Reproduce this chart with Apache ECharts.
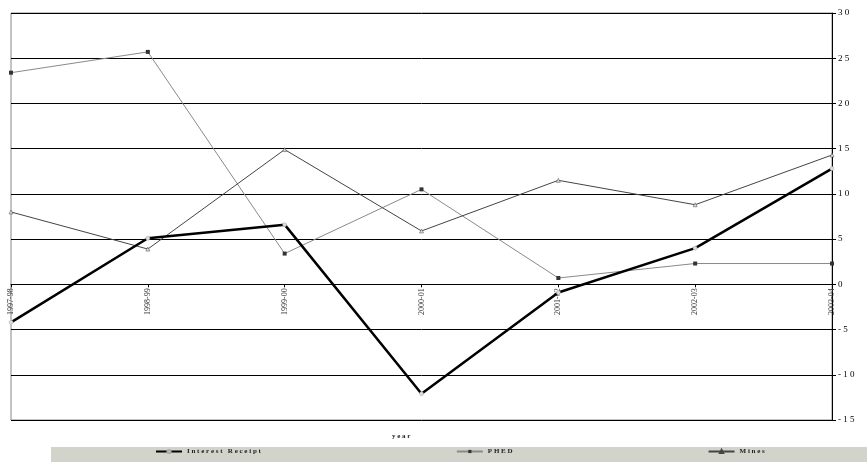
<!DOCTYPE html>
<html>
<head>
<meta charset="utf-8">
<script src="https://cdn.jsdelivr.net/npm/echarts@6/dist/echarts.min.js"></script>
<style>html,body{margin:0;padding:0;background:#fff;}#c{width:867px;height:462px;}</style>
</head>
<body>
<div id="c"></div>
<script>
const categories = ['1997-98','1998-99','1999-00','2000-01','2001-02','2002-03','2003-04'];
const interestReceipt = [-4.2, 5.1, 6.6, -12.1, -0.9, 4.0, 12.8];
const phed = [23.4, 25.7, 3.4, 10.5, 0.7, 2.3, 2.3];
const mines = [8.0, 3.9, 14.9, 5.9, 11.5, 8.8, 14.3];
const seriesNames = ['Interest Receipt', 'PHED', 'Mines'];
const xAxisTitle = 'year';
const yMin = -15, yMax = 30;

const spaced = s => String(s).split('').join(' ');
const serif = '"Liberation Serif", "DejaVu Serif", serif';

const gridTop = 13, gridBottom = 42, H = 462;
const plotH = H - gridTop - gridBottom;
const zeroOffset = -plotH * (0 - yMin) / (yMax - yMin);

const chart = echarts.init(document.getElementById('c'));
chart.setOption({
  animation: false,
  backgroundColor: '#fff',
  grid: { left: 11, right: 35, top: gridTop, bottom: gridBottom, show: true, borderColor: '#888', borderWidth: 1 },
  xAxis: {
    type: 'category',
    data: categories,
    boundaryGap: false,
    position: 'bottom',
    offset: zeroOffset,
    axisLine: { onZero: false, lineStyle: { color: '#000', width: 1 } },
    axisTick: { show: true, length: 3, alignWithLabel: true, lineStyle: { color: '#000' } },
    axisLabel: { rotate: 90, interval: 0, fontFamily: serif, fontSize: 8, color: '#333', margin: 4 },
    splitLine: { show: false }
  },
  yAxis: {
    type: 'value',
    position: 'right',
    min: yMin, max: yMax, interval: 5,
    axisLine: { show: true, lineStyle: { color: '#000', width: 1 } },
    axisTick: { show: true, length: 4, lineStyle: { color: '#000' } },
    axisLabel: { fontFamily: serif, fontSize: 9, color: '#000', margin: 6, formatter: v => spaced(v) },
    splitLine: { show: true, lineStyle: { color: '#000', width: 1 } }
  },
  legend: {
    data: seriesNames,
    left: 150, bottom: 2,
    itemGap: 195,
    itemWidth: 26, itemHeight: 4,
    textStyle: { fontFamily: serif, fontSize: 7, fontWeight: 'bold', color: '#222' },
    formatter: name => spaced(name)
  },
  graphic: [
    { type: 'rect', left: 51, top: 447, z: -10, silent: true,
      shape: { width: 816, height: 15 }, style: { fill: '#d2d3ca' } },
    { type: 'text', left: 392, top: 433, silent: true,
      style: { text: spaced(xAxisTitle), font: 'bold 7px ' + serif, fill: '#222' } }
  ],
  series: [
    { name: seriesNames[1], type: 'line', data: phed, symbol: 'rect', symbolSize: 4,
      lineStyle: { color: '#8a8a8a', width: 1 },
      itemStyle: { color: '#333', borderColor: '#333', borderWidth: 0 } },
    { name: seriesNames[2], type: 'line', data: mines, symbol: 'triangle', symbolSize: 4,
      lineStyle: { color: '#444', width: 1 },
      itemStyle: { color: '#ddd', borderColor: '#444', borderWidth: 0.5 } },
    { name: seriesNames[0], type: 'line', data: interestReceipt, symbol: 'circle', symbolSize: 4, z: 3,
      lineStyle: { color: '#000', width: 2.5 },
      itemStyle: { color: '#ddd', borderColor: '#aaa', borderWidth: 0.5 } }
  ]
});
</script>
</body>
</html>
